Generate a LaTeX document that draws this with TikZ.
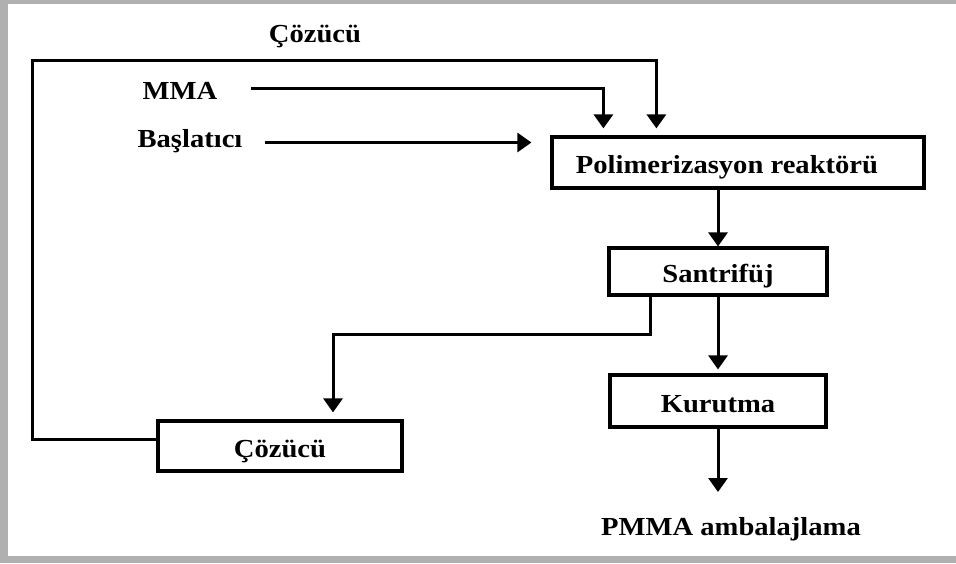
\documentclass[tikz,border=0pt]{standalone}
\usepackage{fontspec}
\setmainfont[FakeStretch=1.1]{Liberation Serif}
\usetikzlibrary{arrows.meta}
\definecolor{framegray}{RGB}{176,176,176}
\tikzset{
  flow/.style={line width=3pt, line join=miter},
  arr/.style={flow, -{Triangle[width=19pt,length=14pt]}},
  txt/.style={inner sep=0pt, text height=22pt, text depth=0pt, font=\fontsize{26}{29}\selectfont\bfseries},
  stepbox/.style={txt, draw, line width=3.2pt},
  tag/.style={txt}
}
\begin{document}
\begin{tikzpicture}[x=1pt,y=-1pt]
  % frame
  \fill[framegray] (0,0) rectangle (956,563);
  \fill[white] (8,4) rectangle (956,556);
  \useasboundingbox (0,0) rectangle (956,563);

  % process boxes
  \node[stepbox, minimum width=372pt, minimum height=51pt] (reactor) at (738,162.5) {Polimerizasyon reaktörü\hspace*{22pt}};
  \node[stepbox, minimum width=218pt, minimum height=47pt] (santrifuj) at (718,271.5) {Santrifüj};
  \node[stepbox, minimum width=216pt, minimum height=52pt] (kurutma) at (718,401) {Kurutma};
  \node[stepbox, minimum width=244pt, minimum height=50pt] (cozbox) at (280,446) {Çözücü};

  % feed and product labels
  \node[tag] (coztop) at (315,31) {Çözücü};
  \node[tag] (mma) at (180,88) {MMA};
  \node[tag] (bas) at (190,136) {Başlatıcı};
  \node[tag] (pmma) at (731,524.5) {PMMA ambalajlama};
  \coordinate (pmmatip) at (718,492);

  % feeds into the reactor
  \draw[arr, shorten >=7pt] ([xshift=33pt]mma.east) -| ([xshift=53pt]reactor.north west);
  \draw[arr] ([xshift=22pt,yshift=-6.5pt]bas.east) -- ([xshift=-19pt,yshift=-6.5pt]reactor.west |- bas.east);

  % solvent recycle loop
  \draw[arr, shorten >=7pt] ([yshift=7pt]cozbox.west) -| (32,60) -| ([xshift=106pt]reactor.north west);

  % main line
  \draw[arr] (reactor.south -| santrifuj) -- (santrifuj.north);
  \draw[arr, shorten >=4pt] (santrifuj.south) -- (kurutma.north);
  \draw[arr] (kurutma.south) -- (pmmatip);

  % solvent split from the centrifuge
  \draw[arr, shorten >=7pt] ([xshift=-68pt]santrifuj.south) -- ++(0,38) -| ([xshift=53pt]cozbox.north);
\end{tikzpicture}
\end{document}
